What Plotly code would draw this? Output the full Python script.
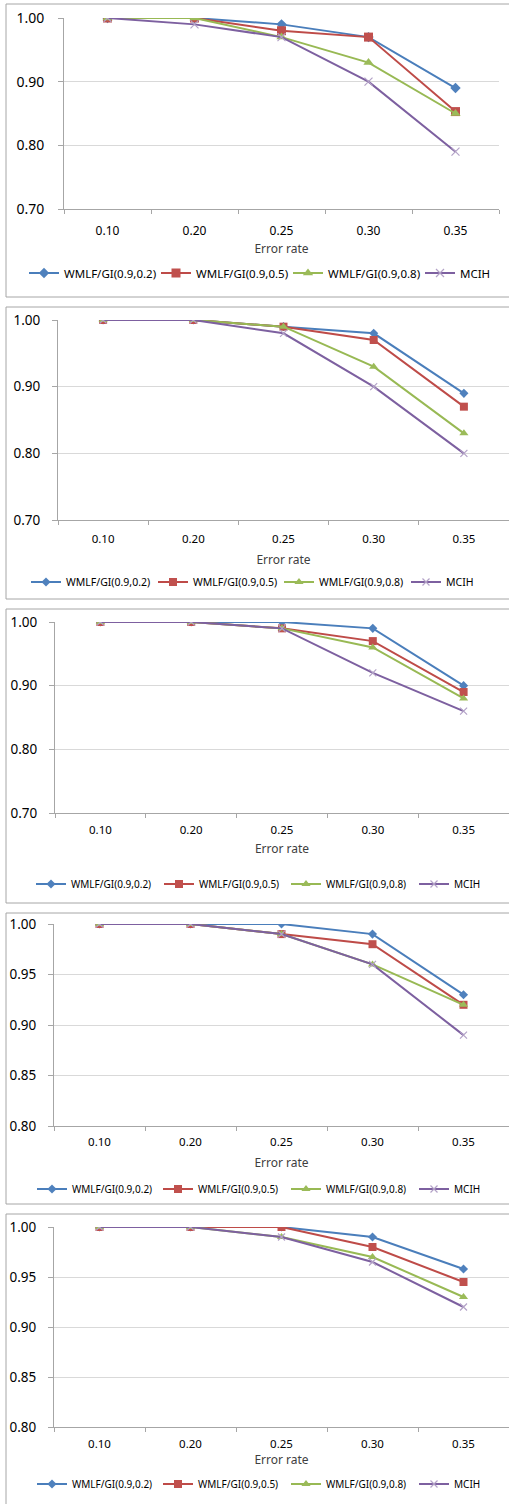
import plotly.graph_objects as go

W, H = 509, 1504

# ---------------- data ----------------
error_rates = ["0.10", "0.20", "0.25", "0.30", "0.35"]
series_names = ["WMLF/GI(0.9,0.2)", "WMLF/GI(0.9,0.5)", "WMLF/GI(0.9,0.8)", "MCIH"]
x_title = "Error rate"

p1_wmlf_02 = [1.00, 1.00, 0.99, 0.97, 0.89]
p1_wmlf_05 = [1.00, 1.00, 0.98, 0.97, 0.853]
p1_wmlf_08 = [1.00, 1.00, 0.97, 0.93, 0.85]
p1_mcih = [1.00, 0.99, 0.97, 0.90, 0.79]

p2_wmlf_02 = [1.00, 1.00, 0.99, 0.98, 0.89]
p2_wmlf_05 = [1.00, 1.00, 0.99, 0.97, 0.87]
p2_wmlf_08 = [1.00, 1.00, 0.99, 0.93, 0.83]
p2_mcih = [1.00, 1.00, 0.98, 0.90, 0.80]

p3_wmlf_02 = [1.00, 1.00, 1.00, 0.99, 0.90]
p3_wmlf_05 = [1.00, 1.00, 0.99, 0.97, 0.89]
p3_wmlf_08 = [1.00, 1.00, 0.99, 0.96, 0.88]
p3_mcih = [1.00, 1.00, 0.99, 0.92, 0.86]

p4_wmlf_02 = [1.00, 1.00, 1.00, 0.99, 0.93]
p4_wmlf_05 = [1.00, 1.00, 0.99, 0.98, 0.92]
p4_wmlf_08 = [1.00, 1.00, 0.99, 0.96, 0.92]
p4_mcih = [1.00, 1.00, 0.99, 0.96, 0.89]

p5_wmlf_02 = [1.00, 1.00, 1.00, 0.99, 0.958]
p5_wmlf_05 = [1.00, 1.00, 1.00, 0.98, 0.945]
p5_wmlf_08 = [1.00, 1.00, 0.99, 0.97, 0.93]
p5_mcih = [1.00, 1.00, 0.99, 0.965, 0.92]

p1_yticks = [0.70, 0.80, 0.90, 1.00]
p2_yticks = [0.70, 0.80, 0.90, 1.00]
p3_yticks = [0.70, 0.80, 0.90, 1.00]
p4_yticks = [0.80, 0.85, 0.90, 0.95, 1.00]
p5_yticks = [0.80, 0.85, 0.90, 0.95, 1.00]

panels_data = [
    ([p1_wmlf_02, p1_wmlf_05, p1_wmlf_08, p1_mcih], p1_yticks),
    ([p2_wmlf_02, p2_wmlf_05, p2_wmlf_08, p2_mcih], p2_yticks),
    ([p3_wmlf_02, p3_wmlf_05, p3_wmlf_08, p3_mcih], p3_yticks),
    ([p4_wmlf_02, p4_wmlf_05, p4_wmlf_08, p4_mcih], p4_yticks),
    ([p5_wmlf_02, p5_wmlf_05, p5_wmlf_08, p5_mcih], p5_yticks),
]

# ---------------- style / layout (pixels) ----------------
FONT = "Noto Sans"
line_colors = ["#4A7EBB", "#BE4B48", "#98B954", "#7D60A0"]
marker_colors = ["#4F81BD", "#C0504D", "#9BBB59", "#B3A2C7"]
symbols = ["diamond", "square", "triangle-up", "x-thin"]

geom = [
    dict(ft=4, fb=297, l=64, r=499, t=18, b=209, leg_y=273, leg_text=[61, 193, 325, 457],
         yfs=14, xfs=12, tfs=12, lfs=11.5, msz=[8, 9, 9, 8], ystand=11, xstand=11, tstand=6),
    dict(ft=307, fb=599, l=58, r=509, t=320, b=520, leg_y=582, leg_text=[63, 190, 316, 443],
         yfs=13.5, xfs=11.5, tfs=12, lfs=10.5, msz=[7, 8, 8, 7], ystand=9, xstand=8, tstand=10),
    dict(ft=609, fb=903, l=55, r=509, t=622, b=813, leg_y=884, leg_text=[68, 196, 323, 451],
         yfs=13.5, xfs=11.5, tfs=12, lfs=10, msz=[7, 8, 8, 7], ystand=9, xstand=6, tstand=8),
    dict(ft=913, fb=1204, l=54, r=509, t=924, b=1126, leg_y=1189, leg_text=[69, 195, 323, 451],
         yfs=13.5, xfs=11.5, tfs=12, lfs=10, msz=[7, 8, 8, 7], ystand=9, xstand=5, tstand=10),
    dict(ft=1214, fb=1520, l=54, r=509, t=1227, b=1427, leg_y=1484, leg_text=[69, 195, 323, 451],
         yfs=13.5, xfs=11.5, tfs=12, lfs=10, msz=[7, 8, 8, 7], ystand=9, xstand=6, tstand=4),
]


def px(x):
    return x / W


def py(y):
    return 1 - y / H


fig = go.Figure()
layout = dict(
    width=W, height=H,
    margin=dict(l=0, r=0, t=0, b=0),
    paper_bgcolor="white", plot_bgcolor="white",
    font=dict(family=FONT, color="#000000"),
    shapes=[],
)

for i, ((series, yticks), g) in enumerate(zip(panels_data, geom)):
    n = i + 1
    xa = "x" if n == 1 else f"x{n}"
    ya = "y" if n == 1 else f"y{n}"
    for k, vals in enumerate(series):
        j = i * 4 + k + 1
        leg = "legend" if j == 1 else f"legend{j}"
        marker = dict(symbol=symbols[k], size=g["msz"][k], color=marker_colors[k],
                      line=dict(width=1.2 if k == 3 else 0, color=marker_colors[k]))
        fig.add_trace(go.Scatter(
            x=error_rates, y=vals, name=series_names[k], mode="lines+markers",
            line=dict(color=line_colors[k], width=2),
            marker=marker, xaxis=xa, yaxis=ya, legend=leg, showlegend=True,
        ))
        layout[leg] = dict(
            orientation="h", x=px(g["leg_text"][k] - 37), xanchor="left",
            y=py(g["leg_y"]), yanchor="middle",
            font=dict(size=g["lfs"], family=FONT), bgcolor="rgba(0,0,0,0)",
            itemclick=False, itemdoubleclick=False,
        )
    xkey = "xaxis" if n == 1 else f"xaxis{n}"
    ykey = "yaxis" if n == 1 else f"yaxis{n}"
    layout[xkey] = dict(
        domain=[px(g["l"]), min(1.0, px(g["r"]))], anchor=ya, type="category",
        categoryorder="array", categoryarray=error_rates,
        range=[-0.5, len(error_rates) - 0.5],
        showline=True, linecolor="#A6A6A6", linewidth=1,
        ticks="outside", tickson="boundaries", ticklen=4, tickcolor="#A6A6A6",
        showgrid=False, zeroline=False, automargin=False,
        tickfont=dict(size=g["xfs"], family=FONT), ticklabelstandoff=g["xstand"],
        title=dict(text=x_title, font=dict(size=g["tfs"], family=FONT, color="#404040"),
                   standoff=g["tstand"]),
    )
    layout[ykey] = dict(
        domain=[py(g["b"]), py(g["t"])], anchor=xa,
        range=[yticks[0], yticks[-1]], tickvals=yticks, tickformat=".2f",
        showline=True, linecolor="#A6A6A6", linewidth=1,
        ticks="outside", ticklen=5, tickcolor="#A6A6A6",
        showgrid=True, gridcolor="#D9D9D9", gridwidth=1, zeroline=False, automargin=False,
        tickfont=dict(size=g["yfs"], family=FONT), ticklabelstandoff=g["ystand"],
    )
    layout["shapes"].append(dict(
        type="rect", xref="paper", yref="paper",
        x0=px(6), x1=px(W + 6), y0=py(g["fb"]), y1=py(g["ft"]),
        line=dict(color="#A6A6A6", width=1), fillcolor="rgba(0,0,0,0)", layer="below",
    ))

fig.update_layout(**layout)
# remove the browser's default 8px page margin so the figure sits at the page origin
fig.write_html("out.html", config={"displayModeBar": False},
               post_script="document.body.style.margin='0';")
